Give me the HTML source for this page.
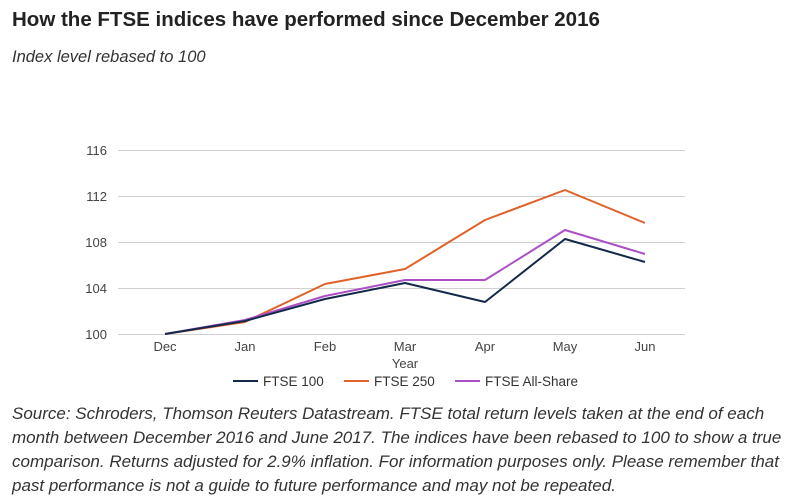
<!DOCTYPE html>
<html><head><meta charset="utf-8"><style>
body{margin:0;background:#fff;width:791px;height:500px;overflow:hidden;font-family:"Liberation Sans",sans-serif;color:#222}
.t{position:absolute;left:12px;top:8px;font-size:20.5px;font-weight:bold;color:#222;white-space:nowrap}
.s{position:absolute;left:12px;top:48px;font-size:16.5px;font-style:italic;color:#333;white-space:nowrap}
.f{position:absolute;left:12px;top:402px;font-size:17px;font-style:italic;line-height:24px;color:#333;white-space:nowrap}
</style></head><body>
<div class="t">How the FTSE indices have performed since December 2016</div>
<div class="s">Index level rebased to 100</div>
<svg width="791" height="500" style="position:absolute;left:0;top:0" font-family="Liberation Sans, sans-serif">
<g stroke="#d0d0d0" stroke-width="1">
<line x1="118" y1="150.5" x2="685" y2="150.5"/><line x1="118" y1="196.5" x2="685" y2="196.5"/>
<line x1="118" y1="242.5" x2="685" y2="242.5"/><line x1="118" y1="288.5" x2="685" y2="288.5"/>
<line x1="118" y1="334.5" x2="685" y2="334.5"/></g>
<g font-size="13" fill="#444" text-anchor="end">
<text x="107" y="155">116</text><text x="107" y="201">112</text><text x="107" y="247">108</text><text x="107" y="293">104</text><text x="107" y="339">100</text></g>
<g font-size="13" fill="#444" text-anchor="middle">
<text x="165" y="351">Dec</text><text x="245" y="351">Jan</text><text x="325" y="351">Feb</text><text x="405" y="351">Mar</text><text x="485" y="351">Apr</text><text x="565" y="351">May</text><text x="645" y="351">Jun</text>
<text x="405" y="368">Year</text></g>
<g fill="none" stroke-width="2" stroke-linejoin="round">
<polyline stroke="#e0622a" points="165,334 245,322 325,284 405,269 485,220 565,190 645,223"/>
<polyline stroke="#ab4fc6" points="165,334 245,320 325,296 405,280 485,280 565,230 645,254"/>
<polyline stroke="#13294b" points="165,334 245,321 325,299 405,283 485,302 565,239 645,262"/>
</g>
<g font-size="13.5" fill="#333">
<line x1="233" y1="381" x2="258" y2="381" stroke="#13294b" stroke-width="2"/><text x="263" y="386">FTSE 100</text>
<line x1="344" y1="381" x2="369" y2="381" stroke="#e0622a" stroke-width="2"/><text x="374" y="386">FTSE 250</text>
<line x1="455" y1="381" x2="480" y2="381" stroke="#ab4fc6" stroke-width="2"/><text x="485" y="386">FTSE All-Share</text>
</g></svg>
<div class="f">Source: Schroders, Thomson Reuters Datastream. FTSE total return levels taken at the end of each<br>month between December 2016 and June 2017. The indices have been rebased to 100 to show a true<br>comparison. Returns adjusted for 2.9% inflation. For information purposes only. Please remember that<br>past performance is not a guide to future performance and may not be repeated.</div>
</body></html>
